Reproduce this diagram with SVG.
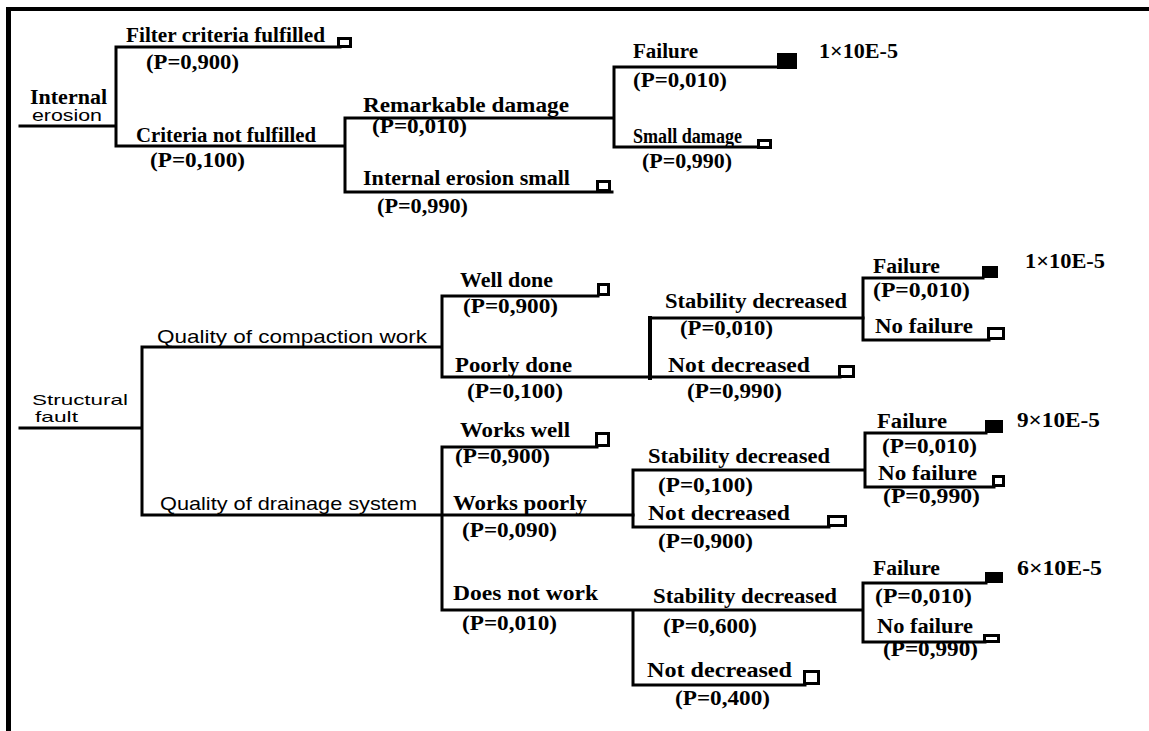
<svg xmlns="http://www.w3.org/2000/svg" width="1149" height="731" viewBox="0 0 1149 731">
<style>
.t{font-family:"Liberation Serif","Times New Roman",serif;font-size:20px;font-weight:bold;fill:#000}
.s{font-family:"Liberation Sans",Arial,sans-serif;font-size:19px;fill:#000}
.e{font-family:"Liberation Sans",Arial,sans-serif;font-size:16px;fill:#000}
.f{font-family:"Liberation Sans",Arial,sans-serif;font-size:15px;fill:#000}
.ln{stroke:#000;stroke-width:3;fill:none;stroke-linecap:square}
.sq{fill:#fff;stroke:#000;stroke-width:3}
.fs{fill:#000}
</style>
<rect width="1149" height="731" fill="#fff"/>
<g id="frame">
<line x1="6" y1="9" x2="1149" y2="9" stroke="#000" stroke-width="4"/>
<line x1="8.5" y1="7" x2="8.5" y2="731" stroke="#000" stroke-width="5"/>
</g>
<g id="connectors" class="ln">
<path d="M20,126H116M116,47V146M116,47H340M116,146H345M345,118V192M345,118H612M345,192H612M614,67V147M614,67H778M614,147H760"/>
<path d="M20,428H142M142,347V515M142,347H442M142,515H633M442,296V377M442,296H598M442,377H840M863,278V340M863,278H983M863,340H989"/>
<path d="M650,318V378" stroke-width="4"/>
<path d="M650,318H863"/>
<path d="M442,447V610M442,447H597M633,470V527M633,470H865M633,527H829M865,433V487M865,433H986M865,487H994M442,610H863M633,610V685M633,685H805M863,583V642M863,583H986M863,642H985"/>
</g>
<g id="n-internal-erosion">
<text class="t" x="30" y="104" textLength="77" lengthAdjust="spacingAndGlyphs">Internal</text>
<text class="e" x="32" y="121" textLength="70" lengthAdjust="spacingAndGlyphs">erosion</text>
</g>
<g id="n-filter-fulfilled">
<text class="t" x="126" y="42" textLength="199" lengthAdjust="spacingAndGlyphs">Filter criteria fulfilled</text>
<text class="t" x="146" y="69" textLength="93" lengthAdjust="spacingAndGlyphs">(P=0,900)</text>
<rect class="sq" x="338.5" y="38.5" width="12" height="8"/>
</g>
<g id="n-criteria-not-fulfilled">
<text class="t" x="136" y="142" textLength="180" lengthAdjust="spacingAndGlyphs">Criteria not fulfilled</text>
<text class="t" x="150" y="167" textLength="95" lengthAdjust="spacingAndGlyphs">(P=0,100)</text>
</g>
<g id="n-remarkable-damage">
<text class="t" x="363" y="112" textLength="206" lengthAdjust="spacingAndGlyphs">Remarkable damage</text>
<text class="t" x="372" y="133" textLength="95" lengthAdjust="spacingAndGlyphs">(P=0,010)</text>
</g>
<g id="n-internal-erosion-small">
<text class="t" x="363" y="185" textLength="207" lengthAdjust="spacingAndGlyphs">Internal erosion small</text>
<text class="t" x="377" y="213" textLength="91" lengthAdjust="spacingAndGlyphs">(P=0,990)</text>
<rect class="sq" x="597.5" y="181.5" width="12" height="9"/>
</g>
<g id="n-failure-1">
<text class="t" x="633" y="58" textLength="65" lengthAdjust="spacingAndGlyphs">Failure</text>
<text class="t" x="633" y="87" textLength="94" lengthAdjust="spacingAndGlyphs">(P=0,010)</text>
<rect class="fs" x="777" y="53" width="20" height="16"/>
<text class="t" x="819" y="58" textLength="79" lengthAdjust="spacingAndGlyphs">1×10E-5</text>
</g>
<g id="n-small-damage">
<text class="t" x="633" y="143" textLength="109" lengthAdjust="spacingAndGlyphs">Small damage</text>
<text class="t" x="642" y="168" textLength="90" lengthAdjust="spacingAndGlyphs">(P=0,990)</text>
<rect class="sq" x="758.5" y="140.5" width="12" height="7"/>
</g>
<g id="n-structural-fault">
<text class="f" x="32" y="405" textLength="96" lengthAdjust="spacingAndGlyphs">Structural</text>
<text class="f" x="35" y="422" textLength="43" lengthAdjust="spacingAndGlyphs">fault</text>
</g>
<g id="n-compaction">
<text class="s" x="157" y="343" textLength="270" lengthAdjust="spacingAndGlyphs">Quality of compaction work</text>
</g>
<g id="n-drainage">
<text class="s" x="160" y="510" textLength="257" lengthAdjust="spacingAndGlyphs">Quality of drainage system</text>
</g>
<g id="n-well-done">
<text class="t" x="460" y="287" textLength="93" lengthAdjust="spacingAndGlyphs">Well done</text>
<text class="t" x="463" y="313" textLength="95" lengthAdjust="spacingAndGlyphs">(P=0,900)</text>
<rect class="sq" x="598.5" y="284.5" width="10" height="10"/>
</g>
<g id="n-poorly-done">
<text class="t" x="455" y="372" textLength="117" lengthAdjust="spacingAndGlyphs">Poorly done</text>
<text class="t" x="467" y="398" textLength="96" lengthAdjust="spacingAndGlyphs">(P=0,100)</text>
</g>
<g id="n-stab-dec-1">
<text class="t" x="665" y="308" textLength="182" lengthAdjust="spacingAndGlyphs">Stability decreased</text>
<text class="t" x="680" y="335" textLength="93" lengthAdjust="spacingAndGlyphs">(P=0,010)</text>
</g>
<g id="n-not-dec-1">
<text class="t" x="668" y="372" textLength="142" lengthAdjust="spacingAndGlyphs">Not decreased</text>
<text class="t" x="687" y="398" textLength="95" lengthAdjust="spacingAndGlyphs">(P=0,990)</text>
<rect class="sq" x="839.5" y="366.5" width="14" height="10"/>
</g>
<g id="n-failure-2">
<text class="t" x="873" y="273" textLength="67" lengthAdjust="spacingAndGlyphs">Failure</text>
<text class="t" x="873" y="297" textLength="97" lengthAdjust="spacingAndGlyphs">(P=0,010)</text>
<rect class="fs" x="982" y="266" width="16" height="12"/>
<text class="t" x="1025" y="268" textLength="80" lengthAdjust="spacingAndGlyphs">1×10E-5</text>
</g>
<g id="n-no-failure-2">
<text class="t" x="875" y="333" textLength="98" lengthAdjust="spacingAndGlyphs">No failure</text>
<rect class="sq" x="988.5" y="328.5" width="15" height="10"/>
</g>
<g id="n-works-well">
<text class="t" x="460" y="437" textLength="110" lengthAdjust="spacingAndGlyphs">Works well</text>
<text class="t" x="455" y="463" textLength="95" lengthAdjust="spacingAndGlyphs">(P=0,900)</text>
<rect class="sq" x="596.5" y="433.5" width="12" height="12"/>
</g>
<g id="n-works-poorly">
<text class="t" x="453" y="510" textLength="134" lengthAdjust="spacingAndGlyphs">Works poorly</text>
<text class="t" x="462" y="537" textLength="95" lengthAdjust="spacingAndGlyphs">(P=0,090)</text>
</g>
<g id="n-stab-dec-2">
<text class="t" x="648" y="463" textLength="182" lengthAdjust="spacingAndGlyphs">Stability decreased</text>
<text class="t" x="658" y="492" textLength="95" lengthAdjust="spacingAndGlyphs">(P=0,100)</text>
</g>
<g id="n-not-dec-2">
<text class="t" x="648" y="520" textLength="142" lengthAdjust="spacingAndGlyphs">Not decreased</text>
<text class="t" x="658" y="548" textLength="95" lengthAdjust="spacingAndGlyphs">(P=0,900)</text>
<rect class="sq" x="828.5" y="516.5" width="17" height="9"/>
</g>
<g id="n-failure-3">
<text class="t" x="877" y="428" textLength="70" lengthAdjust="spacingAndGlyphs">Failure</text>
<text class="t" x="882" y="453" textLength="95" lengthAdjust="spacingAndGlyphs">(P=0,010)</text>
<rect class="fs" x="985" y="420" width="18" height="13"/>
<text class="t" x="1017" y="427" textLength="83" lengthAdjust="spacingAndGlyphs">9×10E-5</text>
</g>
<g id="n-no-failure-3">
<text class="t" x="878" y="480" textLength="99" lengthAdjust="spacingAndGlyphs">No failure</text>
<text class="t" x="883" y="503" textLength="97" lengthAdjust="spacingAndGlyphs">(P=0,990)</text>
<rect class="sq" x="993.5" y="476.5" width="10" height="9"/>
</g>
<g id="n-does-not-work">
<text class="t" x="453" y="600" textLength="145" lengthAdjust="spacingAndGlyphs">Does not work</text>
<text class="t" x="462" y="630" textLength="95" lengthAdjust="spacingAndGlyphs">(P=0,010)</text>
</g>
<g id="n-stab-dec-3">
<text class="t" x="653" y="603" textLength="184" lengthAdjust="spacingAndGlyphs">Stability decreased</text>
<text class="t" x="663" y="633" textLength="94" lengthAdjust="spacingAndGlyphs">(P=0,600)</text>
</g>
<g id="n-not-dec-3">
<text class="t" x="647" y="677" textLength="145" lengthAdjust="spacingAndGlyphs">Not decreased</text>
<text class="t" x="675" y="705" textLength="95" lengthAdjust="spacingAndGlyphs">(P=0,400)</text>
<rect class="sq" x="804.5" y="671.5" width="14" height="12"/>
</g>
<g id="n-failure-4">
<text class="t" x="873" y="575" textLength="67" lengthAdjust="spacingAndGlyphs">Failure</text>
<text class="t" x="875" y="603" textLength="97" lengthAdjust="spacingAndGlyphs">(P=0,010)</text>
<rect class="fs" x="985" y="572" width="18" height="11"/>
<text class="t" x="1017" y="575" textLength="85" lengthAdjust="spacingAndGlyphs">6×10E-5</text>
</g>
<g id="n-no-failure-4">
<text class="t" x="877" y="633" textLength="96" lengthAdjust="spacingAndGlyphs">No failure</text>
<text class="t" x="883" y="656" textLength="95" lengthAdjust="spacingAndGlyphs">(P=0,990)</text>
<rect class="sq" x="984.5" y="635.5" width="14" height="6"/>
</g>
</svg>
